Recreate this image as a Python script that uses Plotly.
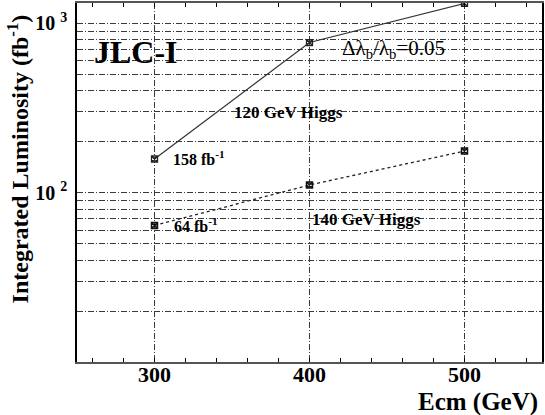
import plotly.graph_objects as go

# Data
ecm = [300, 400, 500]
lumi_120 = [158, 770, 1310]
lumi_140 = [64, 111, 176]

x_ticks = [300, 400, 500]
y_minor_vals = [20, 30, 40, 50, 60, 70, 80, 90, 200, 300, 400, 500, 600, 700, 800, 900]
y_label_vals = [100, 1000]
y_label_text = ["<b>10 <sup>2</sup></b>", "<b>10 <sup>3</sup></b>"]

FONT = "Liberation Serif"
GRID = "#3a3a3a"
DASH = "6px,2px,1px,2px"

fig = go.Figure()
fig.add_trace(go.Scatter(
    x=ecm, y=lumi_120, mode="lines+markers",
    line=dict(color="#333", width=1.2),
    marker=dict(symbol="square-x-open", size=6, color="#222", line=dict(width=1.3)),
    showlegend=False))
fig.add_trace(go.Scatter(
    x=ecm, y=lumi_140, mode="lines+markers",
    line=dict(color="#222", width=1.3, dash="3px,3px"),
    marker=dict(symbol="square-x-open", size=6, color="#111", line=dict(width=1.5)),
    showlegend=False))

fig.update_layout(
    width=545, height=415,
    margin=dict(l=77, r=1, t=1, b=53),
    paper_bgcolor="white", plot_bgcolor="white",
    font=dict(family=FONT, color="black"),
    xaxis=dict(
        range=[250, 550], tickvals=x_ticks, showticklabels=False,
        ticks="outside", ticklen=0, tickcolor="black",
        showgrid=True, gridcolor=GRID, gridwidth=1, griddash=DASH,
        showline=True, linecolor="#555", linewidth=2, mirror="ticks",
        minor=dict(dtick=20, tick0=0, ticks="inside", ticklen=4, tickcolor="black", showgrid=False),
        zeroline=False,
    ),
    yaxis=dict(
        type="log", range=[1, 3.12],
        tickvals=y_label_vals, ticktext=y_label_text,
        tickfont=dict(size=20, family=FONT),
        ticks="", ticklabelstandoff=4,
        showgrid=True, gridcolor=GRID, gridwidth=1, griddash=DASH,
        minor=dict(tickvals=y_minor_vals, ticks="", showgrid=True,
                   gridcolor=GRID, gridwidth=1, griddash=DASH),
        showline=True, linecolor="black", linewidth=1.5, mirror=True,
        zeroline=False,
    ),
)

def px_to_paper(px, py):
    return (px - 77) / 467.0, (362 - py) / 361.0

# x tick labels
_, lab_y = px_to_paper(0, 375)
for v in x_ticks:
    fig.add_annotation(text=f"<b>{v}</b>", xref="x", yref="paper", x=v, y=lab_y,
                       xanchor="center", yanchor="middle", showarrow=False, borderpad=0,
                       font=dict(family=FONT, size=22, color="black"))

annots = [
    ("<b>JLC-I</b>", 92, 50, 32),
    ("Δλ<sub>b</sub>/λ<sub>b</sub>=0.05", 341, 47, 21),
    ("<b>120 GeV Higgs</b>", 233, 111, 17),
    ("<b>158 fb<sup>-1</sup></b>", 171, 157, 16),
    ("<b>64 fb<sup>-1</sup></b>", 172, 224, 16),
    ("<b>140 GeV Higgs</b>", 311, 219, 17),
]
for text, px, py, size in annots:
    ax, ay = px_to_paper(px, py)
    fig.add_annotation(text=text, xref="paper", yref="paper", x=ax, y=ay,
                       xanchor="left", yanchor="middle", showarrow=False,
                       font=dict(family=FONT, size=size, color="black"))

# axis titles
tx, ty = px_to_paper(541, 402)
fig.add_annotation(text="<b>Ecm (GeV)</b>", xref="paper", yref="paper", x=tx, y=ty,
                   xanchor="right", yanchor="middle", showarrow=False, borderpad=0,
                   font=dict(family=FONT, size=25, color="black"))
yx, yy = px_to_paper(18, 158)
fig.add_annotation(text="<b>Integrated Luminosity (fb<sup>-1</sup>)</b>", xref="paper", yref="paper",
                   x=yx, y=yy, xanchor="center", yanchor="middle", textangle=-90, showarrow=False,
                   font=dict(family=FONT, size=24, color="black"))

fig.write_html("out.html", config={"displayModeBar": False},
               post_script="document.body.style.margin='0px';document.body.style.overflow='hidden';")
